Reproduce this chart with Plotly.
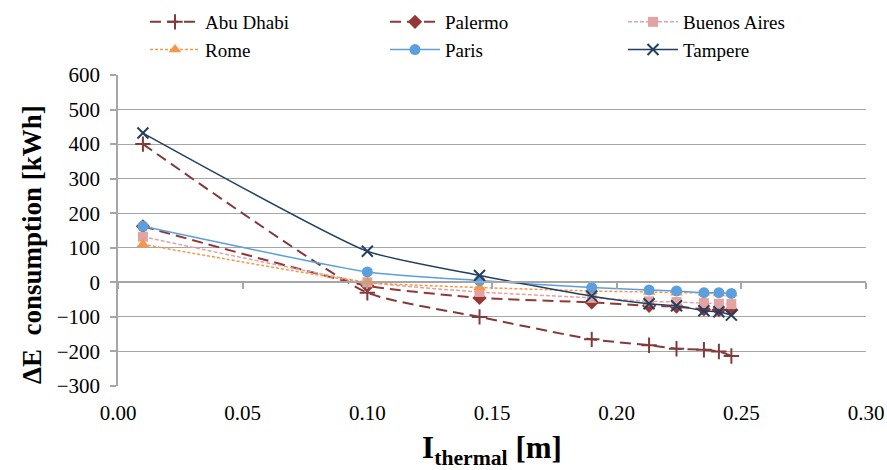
import plotly.graph_objects as go

thickness = [0.01, 0.10, 0.145, 0.19, 0.213, 0.224, 0.235, 0.241, 0.246]

abu_dhabi = [400, -30, -100, -165, -182, -192, -195, -200, -213]
palermo = [162, -10, -45, -58, -68, -70, -78, -80, -80]
buenos_aires = [132, 0, -28, -45, -55, -57, -60, -62, -63]
rome = [110, 0, -15, -25, -28, -30, -30, -32, -32]
paris = [162, 30, 5, -15, -22, -25, -30, -30, -32]
tampere = [432, 90, 20, -40, -62, -68, -82, -85, -95]

y_ticks = [-300, -200, -100, 0, 100, 200, 300, 400, 500, 600]
x_ticks = [0.00, 0.05, 0.10, 0.15, 0.20, 0.25, 0.30]
x_tick_labels = ["0.00", "0.05", "0.10", "0.15", "0.20", "0.25", "0.30"]

FONT = "Times New Roman, Liberation Serif, serif"

series = [
    ("Abu Dhabi", abu_dhabi, "#823B3B", "11px,6px", "cross-thin", 11, 2.0, "legend"),
    ("Palermo", palermo, "#953735", "11px,6px", "diamond", 11, 2.0, "legend2"),
    ("Buenos Aires", buenos_aires, "#E3A3A2", "4px,2px", "square", 10, 1.5, "legend3"),
    ("Rome", rome, "#F79646", "3px,2px", "triangle-up", 11, 1.5, "legend"),
    ("Paris", paris, "#5B9FDC", "solid", "circle", 11, 1.5, "legend2"),
    ("Tampere", tampere, "#243F60", "solid", "x-thin", 11, 1.5, "legend3"),
]

fig = go.Figure()
for name, vals, color, dash, sym, msize, lw, lg in series:
    fig.add_trace(go.Scatter(
        x=thickness, y=vals, name=name, mode="lines+markers", legend=lg,
        line=dict(color=color, width=lw, dash=dash, shape="spline", smoothing=0.5),
        marker=dict(symbol=sym, size=msize, color=color,
                    line=dict(color=color, width=2 if "thin" in sym else 0)),
    ))

legend_common = dict(
    orientation="v", xref="container", yref="container",
    xanchor="left", yanchor="top", y=1 - 3 / 470,
    itemwidth=50, tracegroupgap=0,
    font=dict(family=FONT, size=19, color="black"),
    bgcolor="rgba(0,0,0,0)", borderwidth=0,
)

fig.update_layout(
    width=887, height=470,
    margin=dict(l=118, r=21, t=75, b=84, autoexpand=False),
    paper_bgcolor="white", plot_bgcolor="white",
    font=dict(family=FONT, size=21, color="black"),
    showlegend=True,
    legend=dict(legend_common, x=145 / 887),
    legend2=dict(legend_common, x=385 / 887),
    legend3=dict(legend_common, x=623 / 887),
    xaxis=dict(
        range=[0, 0.30], tickvals=x_ticks, ticktext=x_tick_labels,
        showgrid=False, zeroline=False, showline=False,
        ticks="outside", ticklen=8, tickcolor="rgba(0,0,0,0)",
        tickfont=dict(family=FONT, size=21),
        title=dict(text="<b>I<sub>thermal</sub> [m]</b>", font=dict(family=FONT, size=31), standoff=14),
    ),
    xaxis2=dict(
        range=[0, 0.30], tickvals=x_ticks, overlaying="x", anchor="free", position=1 / 3,
        showgrid=False, zeroline=False, showline=True, linecolor="#A6A6A6", linewidth=1.5,
        ticks="outside", ticklen=6, tickcolor="#A6A6A6", tickwidth=1.5, showticklabels=False,
    ),
    yaxis=dict(
        range=[-300, 600], tickvals=y_ticks, showgrid=True, gridcolor="#A6A6A6", gridwidth=1.2,
        zeroline=False, showline=True, linecolor="#A6A6A6", linewidth=1.5,
        ticks="outside", ticklen=6, tickcolor="#A6A6A6", tickwidth=1.5,
        ticklabelstandoff=6,
        tickfont=dict(family=FONT, size=21),
    ),
    annotations=[dict(
        text="<b>ΔE  consumption [kWh]</b>", textangle=-90, showarrow=False,
        xref="paper", yref="paper", x=(32 - 118) / 748, y=(386 - 245) / 311,
        xanchor="center", yanchor="middle",
        font=dict(family=FONT, size=27, color="black"),
    )],
)

fig.add_trace(go.Scatter(x=[0, 0.30], y=[0, 0], xaxis="x2", mode="lines",
                         line=dict(width=0), showlegend=False, hoverinfo="skip"))

fig.write_html("out.html")
